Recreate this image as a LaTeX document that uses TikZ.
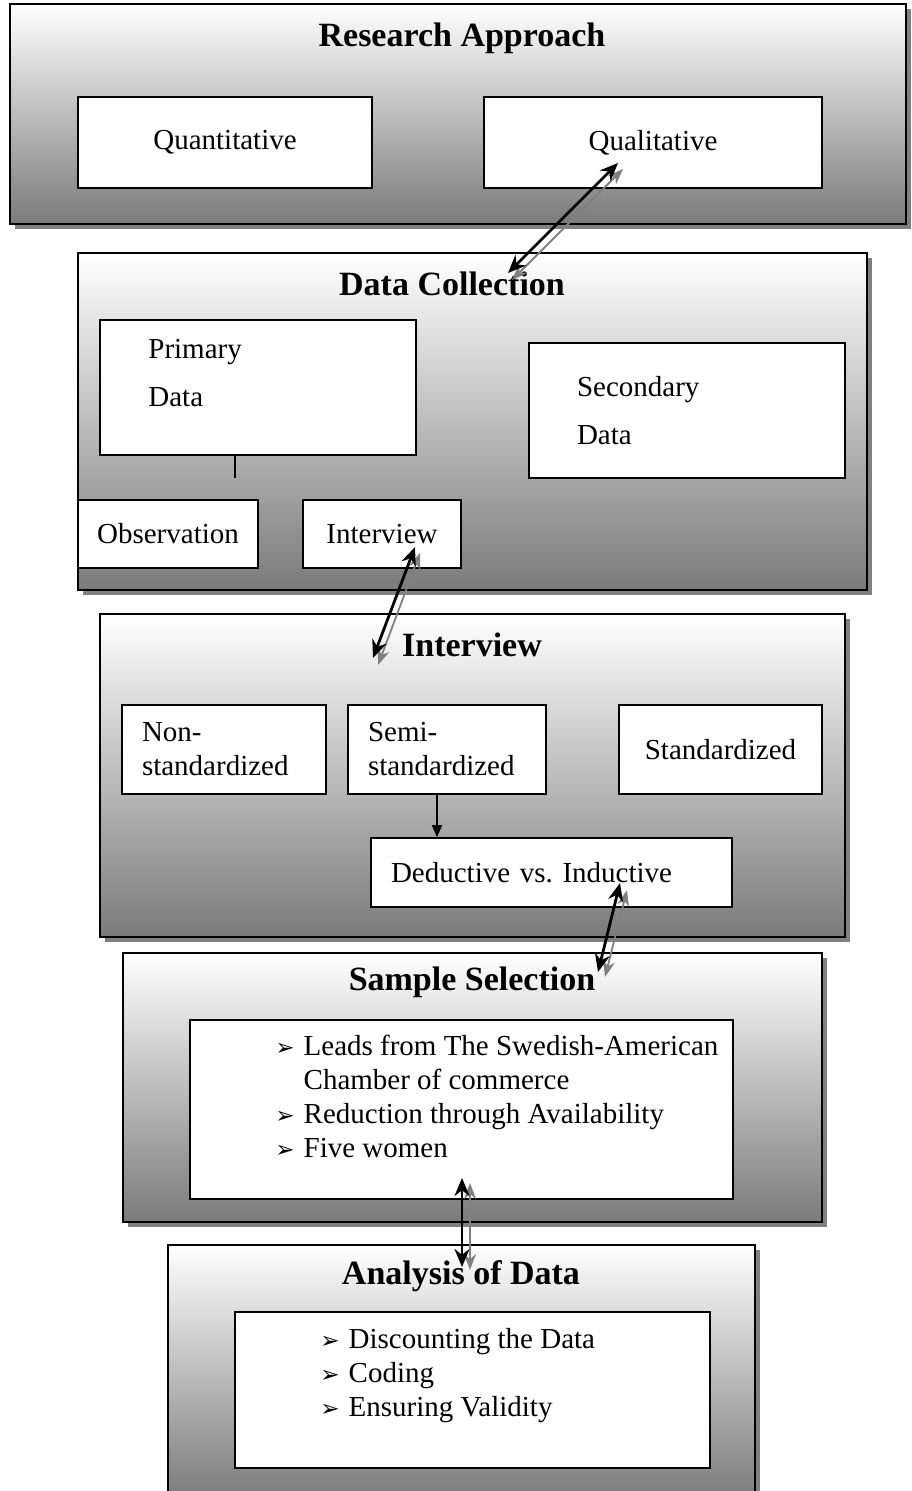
\documentclass[tikz,border=0pt]{standalone}
\usepackage{fontspec}
\setmainfont{Liberation Serif}
\newfontfamily\dingfont{DejaVu Sans}
\usetikzlibrary{shadows,arrows.meta}

\newcommand{\bul}{{\dingfont\fontsize{11.5}{11.5}\selectfont ➢}}

\begin{document}
\begin{tikzpicture}[x=0.5pt,y=-0.5pt,
    panel/.style={draw=black, line width=0.8pt, top color=white, bottom color=black!52,
      drop shadow={fill=black!50, opacity=1, shadow xshift=2.5pt, shadow yshift=-2.5pt}},
    heading/.style={font=\fontsize{17}{20}\selectfont\bfseries, inner sep=0pt},
    txt/.style={font=\fontsize{14.5}{17}\selectfont},
    box/.style={txt, draw=black, line width=0.8pt, fill=white},
    link/.style={line width=1.4pt, {Stealth[length=9pt,width=7.5pt]}-{Stealth[length=9pt,width=7.5pt]}},
    shade link/.style={line width=0.9pt, draw=black!50, fill=black!50,
      {Stealth[length=8pt,width=6pt]}-{Stealth[length=8pt,width=6pt]}}]

  \useasboundingbox (0,0) rectangle (911,1491);

  % research approach
  \node[panel, minimum width=448pt, minimum height=110pt] (approach) at (458,114) {};
  \node[heading] (approachtitle) at (462,38) {Research Approach};
  \node[box, minimum width=147pt, minimum height=45.5pt] (quant) at (225,142.5) {Quantitative};
  \node[box, minimum width=169pt, minimum height=45.5pt] (qual) at (653,142.5) {Qualitative};

  % data collection
  \node[panel, minimum width=394.5pt, minimum height=168.5pt] (collection) at (472.5,421.5) {};
  \node[heading] (collectiontitle) at (452,284) {Data Collection};
  \node[box, minimum width=158pt, minimum height=67.5pt] (primary) at (258,387.5) {};
  \node[txt, anchor=west, align=left, inner sep=0pt] (primarytext) at (148,373) {Primary\\[7pt]Data};
  \node[box, minimum width=158pt, minimum height=67.5pt, text width=110pt, inner xsep=24pt,
    align=left] (secondary) at (687,410.5) {Secondary\\[7pt]Data};
  \coordinate (primarystub) at (235,478);
  \draw[line width=0.8pt] (primary.south -| primarystub) -- (primarystub);
  \node[box, minimum width=90pt, minimum height=34pt] (observation) at (168,534) {Observation};
  \node[box, minimum width=79pt, minimum height=34pt] (interviewbox) at (382,534) {Interview};

  % interview
  \node[panel, minimum width=372.5pt, minimum height=161.5pt] (interview) at (472.5,775.5) {};
  \node[heading] (interviewtitle) at (472,645) {Interview};
  \node[box, minimum width=102pt, minimum height=44.5pt, text width=82pt, inner xsep=10pt,
    align=left] (nonstd) at (224,749.5) {Non-\\standardized};
  \node[box, minimum width=99pt, minimum height=44.5pt, text width=79pt, inner xsep=10pt,
    align=left] (semistd) at (447,749.5) {Semi-\\standardized};
  \node[box, minimum width=101.5pt, minimum height=44.5pt] (std) at (720.5,749.5) {Standardized};
  \node[box, minimum width=180.5pt, minimum height=34.5pt, text width=160.5pt, inner xsep=10pt,
    align=left] (deductive) at (551.5,872.5) {Deductive vs.\ Inductive};
  \draw[line width=0.8pt, -{Triangle[length=6pt,width=5pt]}]
    ([xshift=-5pt]semistd.south) -- ([xshift=-5pt]semistd.south |- deductive.north);

  % sample selection
  \node[panel, minimum width=349.5pt, minimum height=134.5pt] (sample) at (472.5,1087.5) {};
  \node[heading] (sampletitle) at (472,982) {Sample Selection};
  \node[box, minimum width=271.5pt, minimum height=89.5pt] (samplebox) at (461.5,1109.5) {};
  \node[txt, anchor=west, inner sep=0pt] (samplelist) at (275,1100) {%
    \begin{tabular}{@{}l@{\hspace{4.5pt}}l@{}}
      \bul & Leads from The Swedish-American\\
           & Chamber of commerce\\
      \bul & Reduction through Availability\\
      \bul & Five women
    \end{tabular}};

  % analysis of data
  \node[panel, minimum width=293.5pt, minimum height=127.5pt] (analysis) at (461.5,1372.5) {};
  \node[heading] (analysistitle) at (461,1276) {Analysis of Data};
  \node[box, minimum width=237.5pt, minimum height=78pt] (analysisbox) at (472.5,1390) {};
  \node[txt, anchor=west, inner sep=0pt] (analysislist) at (320,1376) {%
    \begin{tabular}{@{}l@{\hspace{4.5pt}}l@{}}
      \bul & Discounting the Data\\
      \bul & Coding\\
      \bul & Ensuring Validity
    \end{tabular}};

  % two-way links
  \coordinate (qualend) at (618,163);
  \coordinate (collectionend) at (508,273);
  \coordinate (interviewboxend) at (415,547);
  \coordinate (interviewend) at (373,658);
  \coordinate (deductiveend) at (620,883);
  \coordinate (sampleend) at (598,972);
  \coordinate (sampleboxend) at (462,1178);
  \coordinate (analysisend) at (462,1267);

  \draw[shade link] ([shift={(5,6)}]qualend) -- ([shift={(4,7)}]collectionend);
  \draw[link] (qualend) -- (collectionend);
  \draw[shade link] ([shift={(5,6)}]interviewboxend) -- ([shift={(5,7)}]interviewend);
  \draw[link] (interviewboxend) -- (interviewend);
  \draw[shade link] ([shift={(7,7)}]deductiveend) -- ([shift={(7,5)}]sampleend);
  \draw[link] (deductiveend) -- (sampleend);
  \draw[shade link] ([shift={(8,5)}]sampleboxend) -- ([shift={(8,3)}]analysisend);
  \draw[link] (sampleboxend) -- (analysisend);

\end{tikzpicture}
\end{document}
